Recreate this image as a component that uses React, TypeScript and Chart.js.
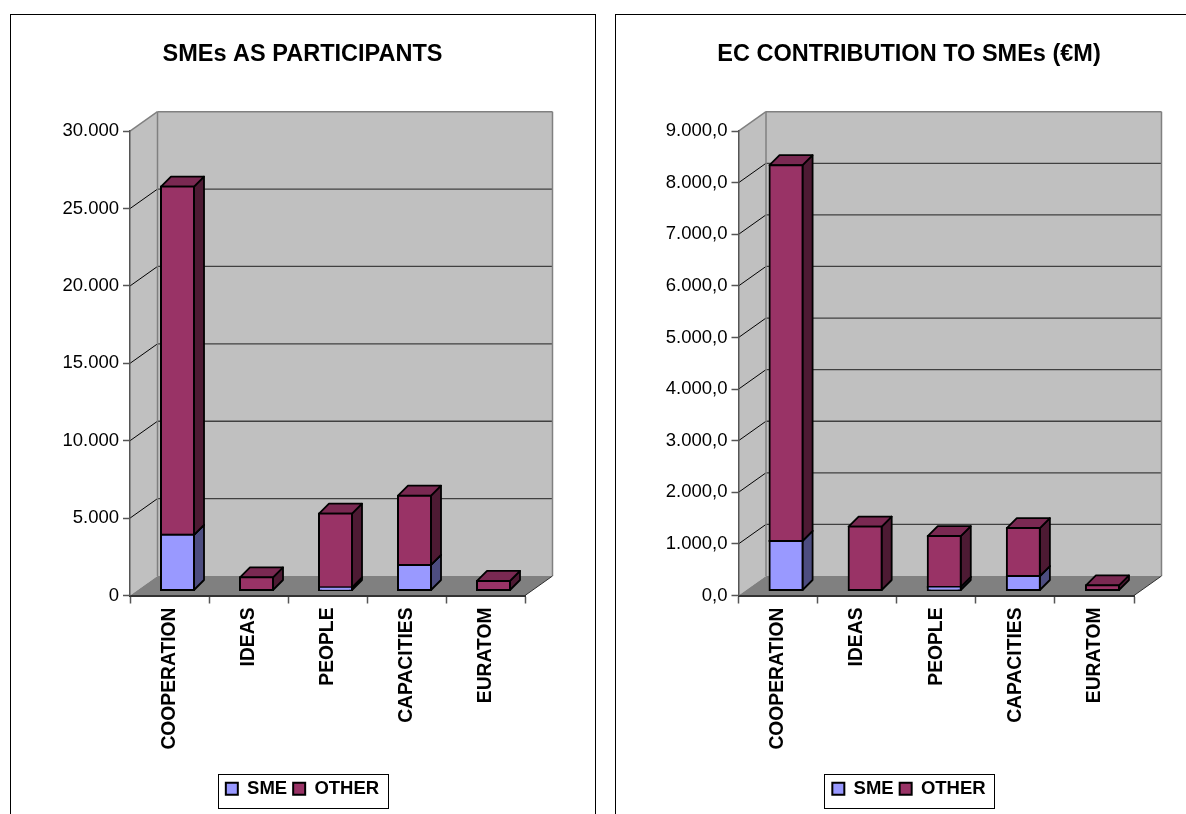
import React, { useEffect, useRef } from "react";
import { Chart, registerables } from "chart.js";

Chart.register(...registerables);

const FONT = "'Liberation Sans', Arial, sans-serif";

const categories = ["COOPERATION", "IDEAS", "PEOPLE", "CAPACITIES", "EURATOM"];
const seriesNames = ["SME", "OTHER"];

const participantsSme = [3600, 0, 200, 1650, 0];
const participantsOther = [22500, 850, 4770, 4480, 620];
const participantsTicks = ["0", "5.000", "10.000", "15.000", "20.000", "25.000", "30.000"];

const contributionSme = [960, 0, 70, 280, 0];
const contributionOther = [7285, 1240, 985, 930, 100];
const contributionTicks = ["0,0", "1.000,0", "2.000,0", "3.000,0", "4.000,0", "5.000,0", "6.000,0", "7.000,0", "8.000,0", "9.000,0"];

const SME_COLORS = { front: "#9999FF", side: "#4D4D80", top: "#7A7ACC" };
const OTHER_COLORS = { front: "#993366", side: "#4D1A33", top: "#7A2952" };
const faceColors = [SME_COLORS, OTHER_COLORS];

// wall depth and bar placement inside it
const DEPTH_X = 27.5;
const DEPTH_Y = 19.5;
const BAR_SHIFT_X = 8;
const BAR_SHIFT_Y = -5;
const BAR_DX = 10;
const BAR_DY = -10;

function poly(ctx: CanvasRenderingContext2D, pts: number[][], fill: string | null, stroke: string | null, lw = 1) {
  ctx.beginPath();
  pts.forEach((p, i) => (i ? ctx.lineTo(p[0], p[1]) : ctx.moveTo(p[0], p[1])));
  ctx.closePath();
  if (fill) {
    ctx.fillStyle = fill;
    ctx.fill();
  }
  if (stroke) {
    ctx.strokeStyle = stroke;
    ctx.lineWidth = lw;
    ctx.stroke();
  }
}

function line(ctx: CanvasRenderingContext2D, x1: number, y1: number, x2: number, y2: number, color: string, lw: number) {
  ctx.beginPath();
  ctx.moveTo(x1, y1);
  ctx.lineTo(x2, y2);
  ctx.strokeStyle = color;
  ctx.lineWidth = lw;
  ctx.stroke();
}

const box3d = {
  id: "box3d",
  beforeDraw(chart: any) {
    const { ctx, chartArea: a, scales } = chart;
    const f = chart.options.plugins.box3d;
    ctx.save();
    ctx.fillStyle = "#FFFFFF";
    ctx.fillRect(0, 0, chart.width, chart.height);
    ctx.strokeStyle = "#000000";
    ctx.lineWidth = 1;
    ctx.strokeRect(f.frameLeft + 0.5, 14.5, f.frameWidth, chart.height + 20);

    const dx = DEPTH_X;
    const dy = DEPTH_Y;
    // side wall, back wall
    poly(ctx, [[a.left, a.top], [a.left + dx, a.top - dy], [a.left + dx, a.bottom - dy], [a.left, a.bottom]], "#C0C0C0", null);
    poly(ctx, [[a.left + dx, a.top - dy], [a.right + dx, a.top - dy], [a.right + dx, a.bottom - dy], [a.left + dx, a.bottom - dy]], "#C0C0C0", null);
    // floor
    poly(ctx, [[a.left, a.bottom], [a.right, a.bottom], [a.right + dx, a.bottom - dy], [a.left + dx, a.bottom - dy]], "#808080", null);

    // gridlines on both walls, from the value scale's ticks
    const y = scales.y;
    y.ticks.forEach((t: any) => {
      const py = y.getPixelForValue(t.value);
      if (t.value === y.min || t.value === y.max) return;
      line(ctx, a.left, py, a.left + dx, py - dy, "#000000", 1);
      line(ctx, a.left + dx, py - dy, a.right + dx, py - dy, "#404040", 1.3);
    });

    // wall edges
    line(ctx, a.left, a.top, a.left + dx, a.top - dy, "#808080", 1.5);
    line(ctx, a.left + dx, a.top - dy, a.right + dx, a.top - dy, "#808080", 1.5);
    line(ctx, a.left + dx, a.top - dy, a.left + dx, a.bottom - dy, "#808080", 1.5);
    line(ctx, a.right + dx, a.top - dy, a.right + dx, a.bottom - dy, "#808080", 1.5);
    line(ctx, a.right, a.bottom, a.right + dx, a.bottom - dy, "#303030", 1);
    ctx.restore();
  },
  beforeDatasetsDraw(chart: any) {
    const { ctx } = chart;
    ctx.save();
    ctx.translate(BAR_SHIFT_X, BAR_SHIFT_Y);
    ctx.lineJoin = "round";
    chart.data.datasets.forEach((_: any, di: number) => {
      const colors = faceColors[di];
      chart.getDatasetMeta(di).data.forEach((bar: any) => {
        const p = bar.getProps(["x", "y", "base", "width"], true);
        if (Math.abs(p.base - p.y) < 0.5) return;
        const l = p.x - p.width / 2;
        const r = p.x + p.width / 2;
        poly(ctx, [[r, p.y], [r + BAR_DX, p.y + BAR_DY], [r + BAR_DX, p.base + BAR_DY], [r, p.base]], colors.side, "#000000", 1.8);
        poly(ctx, [[l, p.y], [r, p.y], [r + BAR_DX, p.y + BAR_DY], [l + BAR_DX, p.y + BAR_DY]], colors.top, "#000000", 1.8);
      });
    });
  },
  afterDatasetsDraw(chart: any) {
    chart.ctx.restore();
  },
  afterDraw(chart: any) {
    const { ctx, legend } = chart;
    const boxes = legend && legend.legendHitBoxes;
    if (!boxes || !boxes.length) return;
    const left = boxes[0].left - 8;
    const last = boxes[boxes.length - 1];
    const right = last.left + last.width + 9;
    ctx.save();
    ctx.strokeStyle = "#000000";
    ctx.lineWidth = 1;
    ctx.strokeRect(Math.round(left) + 0.5, Math.round(legend.top) + 0.5, Math.round(right - left), Math.round(legend.height) - 1);
    ctx.restore();
  },
};

type PanelProps = {
  title: string;
  sme: number[];
  other: number[];
  max: number;
  step: number;
  tickLabels: string[];
  canvasLeft: number;
  canvasWidth: number;
  axisWidth: number;
  rightPad: number;
  frameLeft: number;
  frameWidth: number;
};

function Panel(props: PanelProps) {
  const ref = useRef<HTMLCanvasElement | null>(null);
  useEffect(() => {
    if (!ref.current) return;
    const barStyle = {
      borderColor: "#000000",
      borderWidth: 2,
      borderSkipped: false,
      inflateAmount: 1,
      clip: false,
      barPercentage: 1,
      categoryPercentage: 0.418,
    };
    const chart = new Chart(ref.current, {
      type: "bar",
      data: {
        labels: categories,
        datasets: [
          { label: seriesNames[0], data: props.sme, backgroundColor: SME_COLORS.front, ...barStyle },
          { label: seriesNames[1], data: props.other, backgroundColor: OTHER_COLORS.front, ...barStyle },
        ],
      },
      plugins: [box3d],
      options: {
        responsive: false,
        animation: false,
        devicePixelRatio: 1,
        layout: { padding: { left: 0, right: 0, top: 0, bottom: 6 } },
        plugins: {
          box3d: { frameLeft: props.frameLeft, frameWidth: props.frameWidth },
          tooltip: { enabled: false },
          title: {
            display: true,
            text: props.title,
            color: "#000000",
            font: { family: FONT, size: 23.5, weight: "bold", lineHeight: 1.2 },
            padding: { top: 40, bottom: 63 },
          },
          legend: {
            display: true,
            position: "bottom",
            labels: {
              color: "#000000",
              font: { family: FONT, size: 18.5, weight: "bold" },
              boxWidth: 12,
              boxHeight: 12,
              padding: 6,
            },
          },
        } as any,
        scales: {
          x: {
            stacked: true,
            afterFit: (s: any) => {
              s.height = 178;
            },
            grid: { drawOnChartArea: false, drawTicks: true, tickLength: 8, tickColor: "#555555", tickWidth: 1.5 },
            border: { color: "#333333", width: 2 },
            ticks: {
              autoSkip: false,
              maxRotation: 90,
              minRotation: 90,
              padding: 4,
              color: "#000000",
              font: { family: FONT, size: 19.3, weight: "bold" },
            },
          },
          y: {
            stacked: true,
            min: 0,
            max: props.max,
            afterFit: (s: any) => {
              s.width = props.axisWidth;
            },
            grid: { drawOnChartArea: false, drawTicks: true, tickLength: 7, tickColor: "#555555", tickWidth: 1.5 },
            border: { color: "#555555", width: 1.5 },
            ticks: {
              stepSize: props.step,
              padding: 4,
              color: "#000000",
              font: { family: FONT, size: 18.5 },
              callback: (_v: any, i: number) => props.tickLabels[i],
            },
          },
          // empty right-hand margin so title and legend stay centred on the whole panel
          margin: {
            position: "right",
            display: true,
            afterFit: (s: any) => {
              s.width = props.rightPad;
            },
            grid: { display: false },
            border: { display: false },
            ticks: { display: false },
          },
        },
      } as any,
    });
    return () => chart.destroy();
  }, []);
  return (
    <canvas
      ref={ref}
      width={props.canvasWidth}
      height={814}
      style={{ position: "absolute", left: props.canvasLeft, top: 0, width: props.canvasWidth, height: 814, display: "block" }}
    />
  );
}

export default function App() {
  return (
    <div style={{ position: "absolute", left: 0, top: 0, width: 1186, height: 814, overflow: "hidden", background: "#fff" }}>
      <Panel
        title="SMEs AS PARTICIPANTS"
        sme={participantsSme}
        other={participantsOther}
        max={30000}
        step={5000}
        tickLabels={participantsTicks}
        canvasLeft={0}
        canvasWidth={605}
        axisWidth={130}
        rightPad={80}
        frameLeft={10}
        frameWidth={585}
      />
      <Panel
        title="EC CONTRIBUTION TO SMEs (€M)"
        sme={contributionSme}
        other={contributionOther}
        max={9000}
        step={1000}
        tickLabels={contributionTicks}
        canvasLeft={605}
        canvasWidth={608}
        axisWidth={133.5}
        rightPad={79}
        frameLeft={10}
        frameWidth={640}
      />
    </div>
  );
}
